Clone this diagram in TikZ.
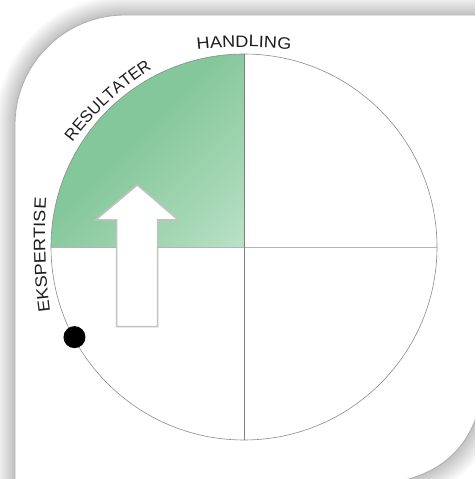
\documentclass[tikz,border=0pt]{standalone}
\usepackage{fontspec}
\setmainfont{Liberation Sans}
\newfontfamily\lblA[FakeStretch=1.1]{Liberation Sans}
\newfontfamily\lblB{Liberation Sans}
\usetikzlibrary{decorations.text}
\definecolor{gdark}{HTML}{84C79A}
\definecolor{gmid}{HTML}{A6D8B6}
\definecolor{glight}{HTML}{D0EBD8}
\definecolor{txt}{HTML}{1E1E1E}
\definecolor{cardedge}{HTML}{AFAFAF}
\definecolor{ringgray}{HTML}{8C8C8C}
\definecolor{hgray}{HTML}{B4B4B4}
\definecolor{arrowgray}{HTML}{C2C2C2}
\pgfdeclarehorizontalshading{greengrad}{100bp}{color(0bp)=(gdark); color(45bp)=(gdark); color(72bp)=(gmid); color(100bp)=(glight)}
\tikzset{
  lbl/.style={decorate, decoration={text along path, text align=center, text color=txt}},
  ring/.style={draw=ringgray, line width=0.6pt},
  vline/.style={draw=ringgray!90!black, line width=0.7pt},
  hline/.style={draw=hgray, line width=0.7pt},
  arrowst/.style={fill=white, draw=arrowgray, line width=1.5pt, line join=miter},
  dotst/.style={circle, fill=black, inner sep=0pt, minimum size=22pt},
}
\begin{document}
\begin{tikzpicture}[x=1pt,y=1pt]
\useasboundingbox (0,0) rectangle (475,479);
\fill[white] (0,0) rectangle (475,479);
\begin{scope}
\clip (0,0) rectangle (475,479);
\foreach \e in {1,...,20}{
  \pgfmathsetmacro{\kk}{(145+\e)*0.72}
  \fill[black, opacity=0.01]
    ({15-\e},{-8-\e}) -- ({15-\e},354) arc[start angle=180, end angle=90, radius={110+\e}]
    -- ({487+\e},{464+\e}) -- ({487+\e},137)
    .. controls ({487+\e},{137-\kk}) and ({342+\kk},{-8-\e}) .. (342,{-8-\e}) -- cycle;
}
\pgfmathsetmacro{\kk}{145*0.72}
\fill[white, draw=cardedge, line width=0.8pt]
  (15,-8) -- (15,354) arc[start angle=180, end angle=90, radius=110]
  -- (487,464) -- (487,137)
  .. controls (487,{137-\kk}) and ({342+\kk},-8) .. (342,-8) -- cycle;
\end{scope}

\coordinate (C) at (244,232);
% green quadrant
\shade[shading=greengrad, shading angle=-45]
  (C) -- ([shift={(C)}]90:193pt) arc[start angle=90, end angle=180, radius=193pt] -- cycle;
% axes
\draw[hline] ([shift={(C)}]180:193pt) -- ([shift={(C)}]0:193pt);
\draw[vline] ([shift={(C)}]90:193pt) -- ([shift={(C)}]270:193pt);
% ring
\draw[ring] (C) circle[radius=193pt];
% arrow
\draw[arrowst] (137.3,294) -- (178.3,259) -- (157.7,259) -- (157.7,152.3)
  -- (116.7,152.3) -- (116.7,259) -- (95.5,259) -- cycle;
% dot
\node[dotst] (dot) at ([shift={(C)}]208:192pt) {};
% labels
\path[lbl, decoration={text={|\lblA\fontsize{16.5}{19}\selectfont|HANDLING}}]
  ([shift={(244,12)}]105:420pt) arc[start angle=105, end angle=75, radius=420pt];
\path[lbl, decoration={text={|\lblB\fontsize{16.5}{19}\selectfont|RESULTATER}}]
  ([shift={(326.5,142.2)}]152.8:320pt) arc[start angle=152.8, end angle=112.8, radius=320pt];
\path[lbl, decoration={text={|\lblA\fontsize{16.5}{19}\selectfont|EKSPERTISE}}]
  ([shift={(645.1,245.1)}]192:600pt) arc[start angle=192, end angle=172, radius=600pt];
\end{tikzpicture}
\end{document}
